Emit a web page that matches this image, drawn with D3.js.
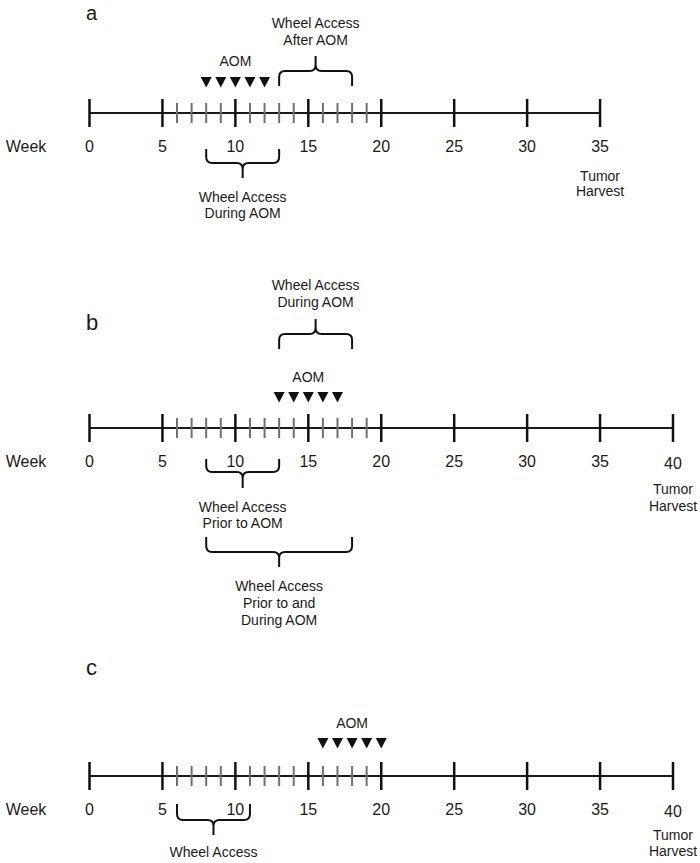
<!DOCTYPE html>
<html>
<head>
<meta charset="utf-8">
<script src="https://cdn.jsdelivr.net/npm/d3@7"></script>
<style>
  html, body { margin: 0; padding: 0; background: #fff; }
  svg { display: block; }
  text { font-family: "Liberation Sans", Arial, Helvetica, sans-serif; fill: #1a1a1a; }
</style>
</head>
<body>
<svg id="chart" width="700" height="863"></svg>
<script>
// ---- data ----
const panels = ["a", "b", "c"];
const lastWeek = [35, 40, 40];
const tickLabelsA = [0, 5, 10, 15, 20, 25, 30, 35];
const tickLabelsB = [0, 5, 10, 15, 20, 25, 30, 35, 40];
const tickLabelsC = [0, 5, 10, 15, 20, 25, 30, 35, 40];
const minorWeeks = [6, 7, 8, 9, 11, 12, 13, 14, 16, 17, 18, 19];
const aomWeeksA = [8, 9, 10, 11, 12];
const aomWeeksB = [13, 14, 15, 16, 17];
const aomWeeksC = [16, 17, 18, 19, 20];
const bracketsA = [
  { start: 13, end: 18, side: "above", label: ["Wheel Access", "After AOM"] },
  { start: 8, end: 13, side: "below", label: ["Wheel Access", "During AOM"] }
];
const bracketsB = [
  { start: 13, end: 18, side: "above", label: ["Wheel Access", "During AOM"] },
  { start: 8, end: 13, side: "below", label: ["Wheel Access", "Prior to AOM"] },
  { start: 8, end: 18, side: "below", label: ["Wheel Access", "Prior to and", "During AOM"] }
];
const bracketsC = [
  { start: 6, end: 11, side: "below", label: ["Wheel Access"] }
];
const endLabel = ["Tumor", "Harvest"];

// ---- layout (positions only) ----
const axisY = [113, 428, 776];
const letterY = [20, 330, 675];
const letterSize = [20, 22, 22];
const aomLabelOff = [-47, -46, -48];
const triTopOff = [-36, -36, -38];
const harvestOff = [[68, 83], [66, 83], [64, 80]];
// bracket geometry: [endOffset, horizontalOffset, spikeOffset], label baseline offsets
const bracketGeom = [
  [ { g: [-27, -42, -57], ly: [-85, -68] }, { g: [36, 50, 65], ly: [89, 105] } ],
  [ { g: [-79, -94, -109], ly: [-138, -121] }, { g: [31, 44, 60], ly: [84, 100] }, { g: [109, 124, 139], ly: [163, 180, 197] } ],
  [ { g: [28, 44, 59], ly: [81] } ]
];

const tickSets = [tickLabelsA, tickLabelsB, tickLabelsC];
const aomSets = [aomWeeksA, aomWeeksB, aomWeeksC];
const bracketSets = [bracketsA, bracketsB, bracketsC];

const x = d3.scaleLinear().domain([0, 40]).range([89.5, 673]);
const svg = d3.select("#chart");

function bracePath(x1, x2, y0, yh, ys) {
  const d = Math.sign(ys - y0);
  const r = 6;
  const xm = (x1 + x2) / 2;
  return `M${x1},${y0} L${x1},${yh - r * d} Q${x1},${yh} ${x1 + r},${yh} L${xm - r},${yh} Q${xm},${yh} ${xm},${yh + r * d} L${xm},${ys}` +
         ` M${xm},${yh + r * d} Q${xm},${yh} ${xm + r},${yh} L${x2 - r},${yh} Q${x2},${yh} ${x2},${yh - r * d} L${x2},${y0}`;
}

panels.forEach((p, i) => {
  const g = svg.append("g");
  const ay = axisY[i];

  // panel letter
  g.append("text").attr("x", 86).attr("y", letterY[i])
    .attr("font-size", letterSize[i]).text(p);

  // main axis line
  g.append("line")
    .attr("x1", x(0)).attr("x2", x(lastWeek[i]))
    .attr("y1", ay).attr("y2", ay)
    .attr("stroke", "#1a1a1a").attr("stroke-width", 2);

  // minor ticks
  g.selectAll(".minor").data(minorWeeks).join("line")
    .attr("x1", d => x(d)).attr("x2", d => x(d))
    .attr("y1", ay - 10).attr("y2", ay + 10)
    .attr("stroke", "#707070").attr("stroke-width", 2);

  // major ticks
  g.selectAll(".major").data(tickSets[i]).join("line")
    .attr("x1", d => x(d)).attr("x2", d => x(d))
    .attr("y1", ay - 14).attr("y2", ay + 14)
    .attr("stroke", "#111").attr("stroke-width", 2.5);

  // tick labels
  g.selectAll(".tl").data(tickSets[i]).join("text")
    .attr("x", d => x(d)).attr("y", d => ay + 39 + (d === 40 ? 2 : 0))
    .attr("text-anchor", "middle").attr("font-size", 16)
    .text(d => d);

  // "Week"
  g.append("text").attr("x", 26).attr("y", ay + 39)
    .attr("text-anchor", "middle").attr("font-size", 16).text("Week");

  // Tumor Harvest
  g.selectAll(".th").data(endLabel).join("text")
    .attr("x", x(lastWeek[i])).attr("y", (d, k) => ay + harvestOff[i][k])
    .attr("text-anchor", "middle").attr("font-size", 14).text(d => d);

  // AOM triangles
  const aw = aomSets[i];
  const top = ay + triTopOff[i];
  g.selectAll(".tri").data(aw).join("path")
    .attr("d", d => `M${x(d) - 5.5},${top} L${x(d) + 5.5},${top} L${x(d)},${top + 10.5} Z`)
    .attr("fill", "#111");
  g.append("text")
    .attr("x", (x(aw[0]) + x(aw[aw.length - 1])) / 2)
    .attr("y", ay + aomLabelOff[i])
    .attr("text-anchor", "middle").attr("font-size", 14).text("AOM");

  // brackets
  bracketSets[i].forEach((b, j) => {
    const geo = bracketGeom[i][j];
    const x1 = x(b.start), x2 = x(b.end);
    g.append("path")
      .attr("d", bracePath(x1, x2, ay + geo.g[0], ay + geo.g[1], ay + geo.g[2]))
      .attr("fill", "none").attr("stroke", "#111").attr("stroke-width", 2);
    g.selectAll(null).data(b.label).join("text")
      .attr("x", (x1 + x2) / 2)
      .attr("y", (d, k) => ay + geo.ly[k])
      .attr("text-anchor", "middle").attr("font-size", 14).text(d => d);
  });
});
</script>
</body>
</html>
